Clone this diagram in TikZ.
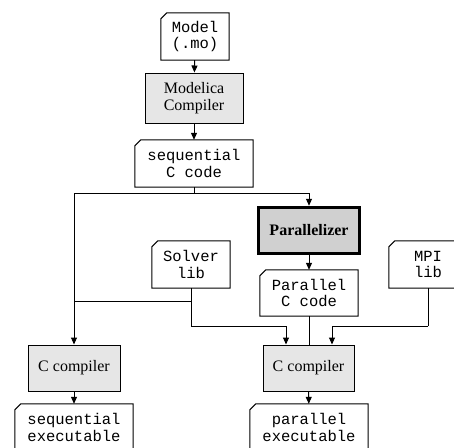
\documentclass[tikz,border=0pt]{standalone}
\usepackage{fontspec}
\setmainfont{Liberation Serif}
\newfontfamily\monofont{Liberation Mono}
\usetikzlibrary{arrows.meta,calc}
\definecolor{lightproc}{HTML}{E6E6E6}
\definecolor{darkproc}{HTML}{D0D0D0}
\newcommand\dataoutline[1]{\draw[line width=1pt] ([xshift=6pt]#1.north west) -- (#1.north east) -- (#1.south east) -- (#1.south west) -- ([yshift=-6pt]#1.north west) -- cycle;}
\tikzset{
  databox/.style={inner sep=0pt, align=center, font=\monofont\fontsize{15.5}{16.5}\selectfont},
  procbox/.style={draw, line width=1pt, fill=lightproc, inner sep=0pt, align=center, font=\fontsize{16}{17}\selectfont},
  arr/.style={line width=1pt, -{Triangle[length=7pt,width=6pt]}},
  conn/.style={line width=1pt},
}
\begin{document}
\begin{tikzpicture}[x=1pt,y=-1pt]
\useasboundingbox (0,0) rectangle (454,447);
\clip (0,0) rectangle (454,447);
\fill[white] (0,0) rectangle (454,447);
% data nodes
\node[databox, minimum width=68pt, minimum height=47pt] (model) at (195,36.5) {Model\\(.mo)};
\node[databox, minimum width=118pt, minimum height=47pt] (seq) at (194,163.5) {sequential\\C code};
\node[databox, minimum width=78pt, minimum height=47pt] (solver) at (191,264.5) {Solver\\lib};
\node[databox, minimum width=78pt, minimum height=47pt] (mpi) at (428,264.5) {MPI\\lib};
\node[databox, minimum width=98pt, minimum height=46pt] (pcode) at (309,293) {Parallel\\C code};
\node[databox, minimum width=118pt, minimum height=47pt] (seqexe) at (74,427.5) {sequential\\executable};
\node[databox, minimum width=118pt, minimum height=47pt] (parexe) at (309,427.5) {parallel\\executable};
\foreach \n in {model,seq,solver,mpi,pcode,seqexe,parexe}{\dataoutline{\n}}
% process nodes
\node[procbox, minimum width=98pt, minimum height=50pt] (mc) at (194,98) {Modelica\\Compiler};
\node[procbox, line width=3.5pt, fill=darkproc, minimum width=101pt, minimum height=46pt, font=\bfseries\fontsize{16}{17}\selectfont] (par) at (309,230.5) {Parallelizer};
\node[procbox, minimum width=92pt, minimum height=46pt] (lcomp) at (74,368) {C compiler};
\node[procbox, minimum width=91pt, minimum height=46pt] (rcomp) at (308.5,368) {C compiler};
% junction coordinates
\coordinate (j1) at (194,193);
\coordinate (j2) at (191,301);
\coordinate (j3) at (191,326);
\coordinate (j4) at (428,326);
% connectors
\draw[arr] (model) -- (mc);
\draw[arr] (mc) -- (seq);
\draw[conn] (seq.south) -- (j1);
\draw[arr] (j1) -| (lcomp.north);
\draw[arr] (j1) -| (par.north);
\draw[arr] (par) -- (pcode);
\draw[conn] (solver.south) -- (j3);
\draw[conn] (j2) -- (j2 -| lcomp.north);
\draw[arr] (j3) -| ($(rcomp.north)+(-22.5,0)$);
\draw[conn] (mpi.south) -- (j4);
\draw[arr] (j4) -| ($(rcomp.north)+(23.5,0)$);
\draw[conn] (pcode.south) -- (pcode.south |- rcomp.north);
\draw[arr] (lcomp) -- (seqexe);
\draw[arr] (rcomp) -- (parexe);
\end{tikzpicture}
\end{document}
